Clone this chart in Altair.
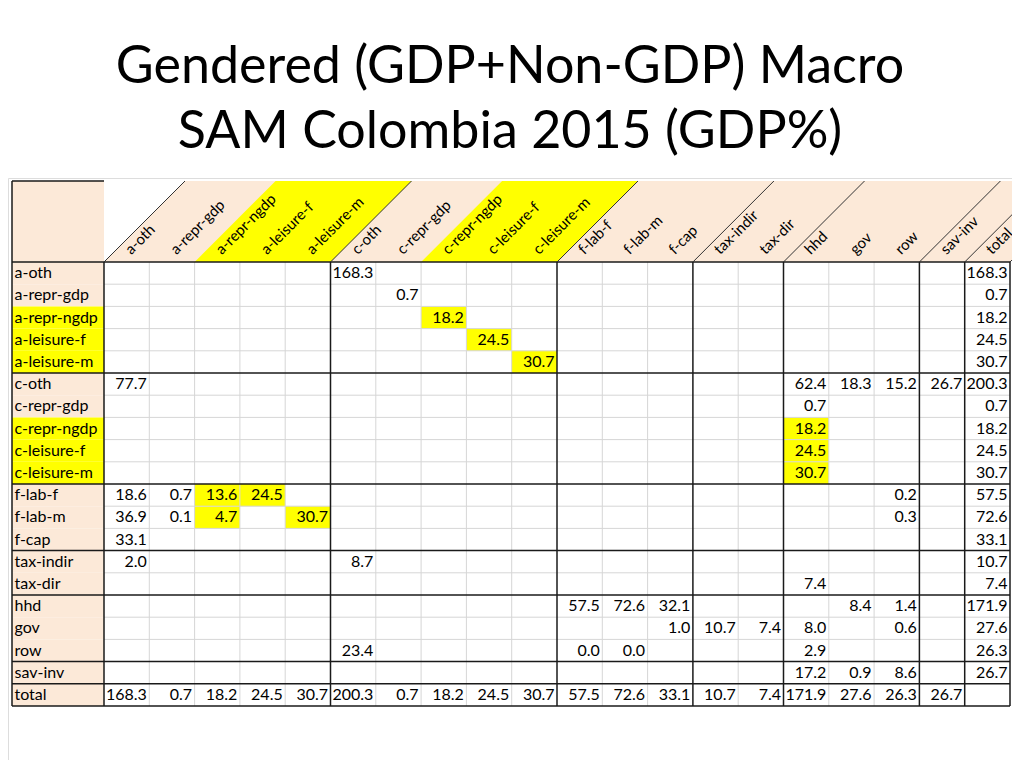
import altair as alt
import pandas as pd

title_lines = ["Gendered (GDP+Non-GDP) Macro", "SAM Colombia 2015 (GDP%)"]

accounts = ["a-oth", "a-repr-gdp", "a-repr-ngdp", "a-leisure-f", "a-leisure-m",
            "c-oth", "c-repr-gdp", "c-repr-ngdp", "c-leisure-f", "c-leisure-m",
            "f-lab-f", "f-lab-m", "f-cap", "tax-indir", "tax-dir",
            "hhd", "gov", "row", "sav-inv", "total"]

N = None
# columns: a-oth a-repr-gdp a-repr-ngdp a-leisure-f a-leisure-m | c-oth c-repr-gdp c-repr-ngdp c-leisure-f c-leisure-m |
#          f-lab-f f-lab-m f-cap | tax-indir tax-dir | hhd gov row | sav-inv | total
r_a_oth       = [N, N, N, N, N,   168.3, N, N, N, N,   N, N, N,   N, N,   N, N, N,   N,   168.3]
r_a_repr_gdp  = [N, N, N, N, N,   N, 0.7, N, N, N,     N, N, N,   N, N,   N, N, N,   N,   0.7]
r_a_repr_ngdp = [N, N, N, N, N,   N, N, 18.2, N, N,    N, N, N,   N, N,   N, N, N,   N,   18.2]
r_a_leisure_f = [N, N, N, N, N,   N, N, N, 24.5, N,    N, N, N,   N, N,   N, N, N,   N,   24.5]
r_a_leisure_m = [N, N, N, N, N,   N, N, N, N, 30.7,    N, N, N,   N, N,   N, N, N,   N,   30.7]
r_c_oth       = [77.7, N, N, N, N, N, N, N, N, N,      N, N, N,   N, N,   62.4, 18.3, 15.2, 26.7, 200.3]
r_c_repr_gdp  = [N, N, N, N, N,   N, N, N, N, N,       N, N, N,   N, N,   0.7, N, N,  N,   0.7]
r_c_repr_ngdp = [N, N, N, N, N,   N, N, N, N, N,       N, N, N,   N, N,   18.2, N, N, N,   18.2]
r_c_leisure_f = [N, N, N, N, N,   N, N, N, N, N,       N, N, N,   N, N,   24.5, N, N, N,   24.5]
r_c_leisure_m = [N, N, N, N, N,   N, N, N, N, N,       N, N, N,   N, N,   30.7, N, N, N,   30.7]
r_f_lab_f     = [18.6, 0.7, 13.6, 24.5, N, N, N, N, N, N, N, N, N, N, N,   N, N, 0.2,  N,   57.5]
r_f_lab_m     = [36.9, 0.1, 4.7, N, 30.7,  N, N, N, N, N, N, N, N, N, N,   N, N, 0.3,  N,   72.6]
r_f_cap       = [33.1, N, N, N, N, N, N, N, N, N,      N, N, N,   N, N,   N, N, N,   N,   33.1]
r_tax_indir   = [2.0, N, N, N, N, 8.7, N, N, N, N,     N, N, N,   N, N,   N, N, N,   N,   10.7]
r_tax_dir     = [N, N, N, N, N,   N, N, N, N, N,       N, N, N,   N, N,   7.4, N, N,  N,   7.4]
r_hhd         = [N, N, N, N, N,   N, N, N, N, N,       57.5, 72.6, 32.1, N, N, N, 8.4, 1.4, N, 171.9]
r_gov         = [N, N, N, N, N,   N, N, N, N, N,       N, N, 1.0, 10.7, 7.4, 8.0, N, 0.6, N, 27.6]
r_row         = [N, N, N, N, N,   23.4, N, N, N, N,    0.0, 0.0, N, N, N,  2.9, N, N,  N,   26.3]
r_sav_inv     = [N, N, N, N, N,   N, N, N, N, N,       N, N, N,   N, N,   17.2, 0.9, 8.6, N,  26.7]
r_total       = [168.3, 0.7, 18.2, 24.5, 30.7, 200.3, 0.7, 18.2, 24.5, 30.7,
                 57.5, 72.6, 33.1, 10.7, 7.4, 171.9, 27.6, 26.3, 26.7, N]

rows = [r_a_oth, r_a_repr_gdp, r_a_repr_ngdp, r_a_leisure_f, r_a_leisure_m,
        r_c_oth, r_c_repr_gdp, r_c_repr_ngdp, r_c_leisure_f, r_c_leisure_m,
        r_f_lab_f, r_f_lab_m, r_f_cap, r_tax_indir, r_tax_dir,
        r_hhd, r_gov, r_row, r_sav_inv, r_total]

# highlighted (yellow) cells as (row account, column account)
yellow_cells = [("a-repr-ngdp", "c-repr-ngdp"), ("a-leisure-f", "c-leisure-f"),
                ("a-leisure-m", "c-leisure-m"), ("c-repr-ngdp", "hhd"),
                ("c-leisure-f", "hhd"), ("c-leisure-m", "hhd"),
                ("f-lab-f", "a-repr-ngdp"), ("f-lab-f", "a-leisure-f"),
                ("f-lab-m", "a-repr-ngdp"), ("f-lab-m", "a-leisure-m")]
yellow_labels = ["a-repr-ngdp", "a-leisure-f", "a-leisure-m",
                 "c-repr-ngdp", "c-leisure-f", "c-leisure-m"]
yellow_header_groups = [("a-repr-ngdp", "a-leisure-m"), ("c-repr-ngdp", "c-leisure-m")]
# accounts after which a heavy border is drawn
group_ends = ["a-leisure-m", "c-leisure-m", "f-cap", "tax-dir", "row", "sav-inv", "total"]

# ---- geometry (pixels -> table units) ----
COL_W, ROW_H = 45.3, 22.2
LW = 92 / COL_W          # label column width in column units
HH = 81 / ROW_H          # header height in row units
SK = 81 / COL_W          # 45 degree skew in column units
n = len(accounts)
idx = {a: i for i, a in enumerate(accounts)}
thick = [0] + [idx[a] + 1 for a in group_ends]

BEIGE = "#FCE9D8"
YELLOW = "#FFFF00"
GRID = "#D6D6D6"
FONT = "Lato"

xs = alt.Scale(domain=[(8 - 104) / COL_W, (1012 - 104) / COL_W], nice=False, zero=False)
ys = alt.Scale(domain=[(178 - 262) / ROW_H, (760 - 262) / ROW_H], nice=False, zero=False, reverse=True)

# ---- data frames ----
cells = []
for r, vals in enumerate(rows):
    for c, v in enumerate(vals):
        if v is not None:
            cells.append({"x": c + 1 - 2.5 / COL_W, "y": r + 0.5, "t": f"{v:.1f}"})
cells = pd.DataFrame(cells)

ycells = pd.DataFrame([{"x": idx[c], "x2": idx[c] + 1, "y": idx[r], "y2": idx[r] + 1}
                       for r, c in yellow_cells])

lab_bg = [{"x": -LW, "x2": 0, "y": -HH, "y2": 0, "k": "b"}]
for i, a in enumerate(accounts):
    lab_bg.append({"x": -LW, "x2": 0, "y": i, "y2": i + 1,
                   "k": "y" if a in yellow_labels else "b"})
lab_bg = pd.DataFrame(lab_bg)

row_labels = pd.DataFrame([{"x": -LW + 2.5 / COL_W, "y": i + 0.5, "t": a} for i, a in enumerate(accounts)])
col_labels = pd.DataFrame([{"x": i + 0.6, "y": -0.3, "t": a} for i, a in enumerate(accounts)])

hdr = [{"g": "bg", "y": 0, "x": 0, "x2": n}, {"g": "bg", "y": -HH, "x": SK, "x2": n + SK}]
hdr_y = []
for k, (a, b) in enumerate(yellow_header_groups):
    hdr_y.append({"g": f"y{k}", "y": 0, "x": idx[a], "x2": idx[b] + 1})
    hdr_y.append({"g": f"y{k}", "y": -HH, "x": idx[a] + SK, "x2": idx[b] + 1 + SK})
hdr = pd.DataFrame(hdr)
hdr_y = pd.DataFrame(hdr_y)

light, heavy, diag = [], [], []
for c in range(1, n):
    if c not in thick:
        light.append({"x": c, "x2": c, "y": 0, "y2": n})
for r in range(1, n):
    if r not in thick:
        light.append({"x": 0, "x2": n, "y": r, "y2": r})
for c in thick:
    heavy.append({"x": c, "x2": c, "y": 0, "y2": n})
    diag.append({"x": c, "x2": c + SK, "y": 0, "y2": -HH})
for r in thick:
    heavy.append({"x": -LW, "x2": n, "y": r, "y2": r})
heavy.append({"x": -LW, "x2": -LW, "y": -HH, "y2": n})
heavy.append({"x": -LW, "x2": 0, "y": -HH, "y2": -HH})
light, heavy, diag = pd.DataFrame(light), pd.DataFrame(heavy), pd.DataFrame(diag)


def X(f="x"):
    return alt.X(f"{f}:Q", scale=xs, axis=None)


def Y(f="y"):
    return alt.Y(f"{f}:Q", scale=ys, axis=None)


hdr_bg = alt.Chart(hdr).mark_area(orient="horizontal", color=BEIGE, clip=True).encode(
    y=Y(), x=X(), x2="x2:Q", detail="g:N")
hdr_yl = alt.Chart(hdr_y).mark_area(orient="horizontal", color=YELLOW, clip=True).encode(
    y=Y(), x=X(), x2="x2:Q", detail="g:N")

lab_rect = alt.Chart(lab_bg).mark_rect(clip=True).encode(
    x=X(), x2="x2:Q", y=Y(), y2="y2:Q",
    color=alt.Color("k:N", scale=alt.Scale(domain=["b", "y"], range=[BEIGE, YELLOW]), legend=None))
cell_rect = alt.Chart(ycells).mark_rect(color=YELLOW, clip=True).encode(
    x=X(), x2="x2:Q", y=Y(), y2="y2:Q")

light_r = alt.Chart(light).mark_rule(color=GRID, strokeWidth=1, clip=True).encode(
    x=X(), x2="x2:Q", y=Y(), y2="y2:Q")
heavy_r = alt.Chart(heavy).mark_rule(color="#1a1a1a", strokeWidth=1.5, clip=True).encode(
    x=X(), x2="x2:Q", y=Y(), y2="y2:Q")
diag_r = alt.Chart(diag).mark_rule(color="#333333", strokeWidth=1, clip=True).encode(
    x=X(), x2="x2:Q", y=Y(), y2="y2:Q")

vals_t = alt.Chart(cells).mark_text(align="right", baseline="middle", font=FONT, fontSize=16,
                                    color="black", clip=True).encode(x=X(), y=Y(), text="t:N")
rlab_t = alt.Chart(row_labels).mark_text(align="left", baseline="middle", font=FONT, fontSize=16,
                                         color="black", clip=True).encode(x=X(), y=Y(), text="t:N")
clab_t = alt.Chart(col_labels).mark_text(align="left", baseline="alphabetic", angle=315, font=FONT,
                                         fontSize=15, color="black", clip=True).encode(
    x=X(), y=Y(), text="t:N")

chart = alt.layer(hdr_bg, hdr_yl, lab_rect, cell_rect, light_r, heavy_r, diag_r,
                  vals_t, rlab_t, clab_t).properties(
    width=1004, height=582,
    autosize="none",
    padding={"left": 0, "top": 170, "right": 0, "bottom": 0},
    title=alt.TitleParams(text=title_lines, fontSize=52, font=FONT, fontWeight="normal",
                          anchor="middle", offset=19, lineHeight=65, color="black"),
).configure_view(strokeWidth=0).configure(background="white")

chart.save("out.html", embed_options={"renderer": "svg", "actions": False})
